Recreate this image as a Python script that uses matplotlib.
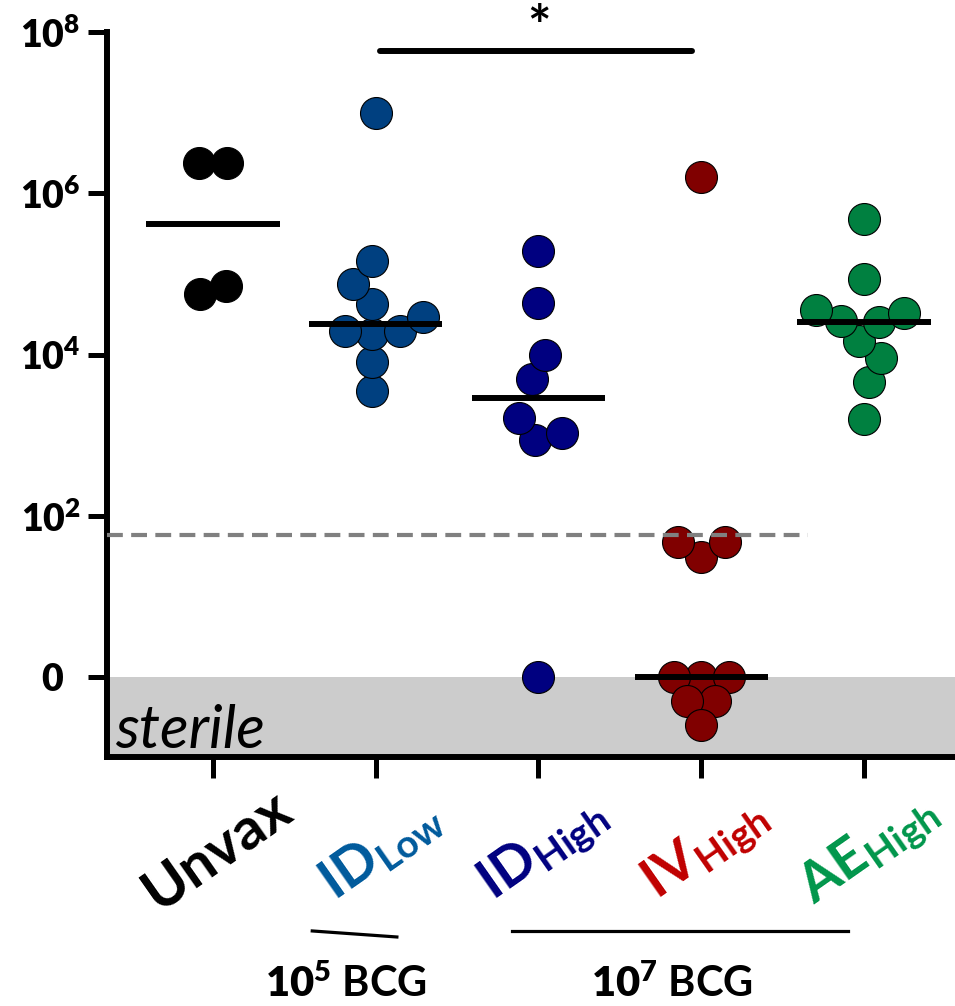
import numpy as np
import matplotlib.pyplot as plt
from matplotlib.transforms import blended_transform_factory, ScaledTranslation

plt.rcParams['font.family'] = ['Lato', 'DejaVu Sans']
plt.rcParams['mathtext.fontset'] = 'custom'
plt.rcParams['mathtext.rm'] = 'Lato:weight=bold'
plt.rcParams['mathtext.bf'] = 'Lato:weight=heavy'
plt.rcParams['mathtext.it'] = 'Lato:italic:weight=bold'
plt.rcParams['mathtext.default'] = 'rm'

# groups and labels
groups = ['Unvax', 'ID Low', 'ID High', 'IV High', 'AE High']
labels = ['Unvax', r'$ID_{Low}$', r'$ID_{High}$', r'$IV_{High}$', r'$AE_{High}$']
dot_colors = ['#000000', '#004080', '#000080', '#800000', '#008040']
label_colors = ['#000000', '#005a9c', '#000080', '#c00000', '#00964b']

# CFU per animal (0 = sterile)
unvax = [2.4e6, 2.4e6, 5.6e4, 7.0e4]
id_low = [1.0e7, 1.45e5, 7.4e4, 4.2e4, 2.95e4, 1.95e4, 1.8e4, 1.95e4, 8.0e3, 3.5e3]
id_high = [1.9e5, 4.4e4, 1.0e4, 5.0e3, 1.65e3, 1.05e3, 8.7e2, 0]
iv_high = [1.6e6, 47, 31, 47, 0, 0, 0, 0, 0, 0]
ae_high = [4.8e5, 8.7e4, 3.6e4, 3.3e4, 2.6e4, 2.5e4, 1.45e4, 9.1e3, 4.5e3, 1.6e3]
cfu = [unvax, id_low, id_high, iv_high, ae_high]

lod = 58  # limit of detection
ytick_vals = [0, 2, 4, 6, 8]
ytick_labels = [r'$\mathbf{0}$', r'$\mathbf{10^{2}}$', r'$\mathbf{10^{4}}$',
                r'$\mathbf{10^{6}}$', r'$\mathbf{10^{8}}$']
dose_labels = [r'$\mathbf{10^{5}}$ BCG', r'$\mathbf{10^{7}}$ BCG']
dose_spans = [(0.61, 1.13), (1.84, 3.90)]
signif = (1, 3, '*')


def to_log(v):
    v = np.asarray(v, float)
    return np.log10(np.where(v > 0, v, 1.0))


def swarm(ypx, floor, d, max_half):
    """greedy beeswarm in pixels; sterile points may sink below the floor"""
    pts = []
    for y, fl in zip(ypx, floor):
        if fl:
            gx, gy = np.meshgrid(np.arange(-max_half, max_half + 0.5, 0.5),
                                 np.arange(0, -2.5 * d, -0.5))
            cand = np.column_stack([gx.ravel(), y + gy.ravel()])
            cost = np.abs(cand[:, 0]) + 4 * np.abs(cand[:, 1] - y)
        else:
            cx = [0.0]
            for px, py in pts:
                dy = abs(py - y)
                if dy < d:
                    dx = np.sqrt(d * d - dy * dy)
                    cx += [px - dx, px + dx]
            cand = np.column_stack([cx, np.full(len(cx), y)])
            cost = np.abs(cand[:, 0])
        nr = sum(1 for p in pts if p[0] > 0.5)
        nl = sum(1 for p in pts if p[0] < -0.5)
        cost = cost + 1e-3 * np.sign(cand[:, 0]) * (nr - nl - 0.5)
        ok = np.ones(len(cand), bool)
        for px, py in pts:
            ok &= np.hypot(cand[:, 0] - px, cand[:, 1] - py) >= d - 1e-6
        i = np.argmin(np.where(ok, cost, np.inf))
        pts.append((cand[i, 0], cand[i, 1]))
    pts = np.array(pts)
    # centre each touching cluster
    n = len(pts)
    comp = list(range(n))

    def find(a):
        while comp[a] != a:
            a = comp[a]
        return a
    for a in range(n):
        for b in range(a + 1, n):
            if np.hypot(*(pts[a] - pts[b])) < 1.3 * d:
                comp[find(a)] = find(b)
    roots = np.array([find(a) for a in range(n)])
    for r in set(roots):
        m = roots == r
        pts[m, 0] -= pts[m, 0].mean()
    return pts


fig = plt.figure(figsize=(9.55, 10.06), dpi=100)
ax = fig.add_axes([107 / 955, 249 / 1006, 848 / 955, 725 / 1006])
ax.set_xlim(-0.651, 4.559)
ax.set_ylim(-0.992, 8)

ax.axhspan(-0.992, 0, color='#cccccc', lw=0, zorder=0)

x0, y0 = ax.transData.transform((0, 0))
x1, y1 = ax.transData.transform((1, 1))
ppx, ppy = x1 - x0, y1 - y0
diam_pt = 23
diam_px = diam_pt / 72 * fig.dpi

for i, vals in enumerate(cfu):
    lv = to_log(vals)
    order = np.argsort(lv)
    floor = np.asarray(vals)[order] == 0
    pts = swarm(lv[order] * ppy, floor, 0.86 * diam_px, 35)
    xs = i + pts[:, 0] / ppx
    ys = pts[:, 1] / ppy
    ax.plot(xs, ys, 'o', ms=diam_pt, mfc=dot_colors[i], mec='black', mew=0.8,
            zorder=3, clip_on=False)
    med = np.median(lv)
    ax.plot([i - 0.41, i + 0.41], [med, med], color='black', lw=4.3,
            solid_capstyle='butt', zorder=5)

ax.plot([-0.651, 3.656], [np.log10(lod)] * 2, color='#808080', lw=3,
        dashes=(3.8, 2.0), zorder=6)

# significance bar
ax.plot([1.026, 2.943], [7.76, 7.76], color='black', lw=4.3,
        solid_capstyle='round', clip_on=False, zorder=5)
ax.text((signif[0] + signif[1]) / 2, 7.84, signif[2], ha='center',
        va='baseline', fontsize=40, fontweight='bold', clip_on=False)

ax.text(-0.6, -0.88, 'sterile', fontsize=43, style='italic', va='baseline',
        ha='left', zorder=2)

for s in ['top', 'right']:
    ax.spines[s].set_visible(False)
for s in ['left', 'bottom']:
    ax.spines[s].set_linewidth(4.3)

ax.set_yticks(ytick_vals)
ax.set_yticklabels(ytick_labels, fontsize=27, fontweight='bold')
ax.tick_params(axis='y', length=14, width=3.6, pad=5)
ax.get_yticklabels()[0].set_transform(
    ax.get_yticklabels()[0].get_transform()
    + ScaledTranslation(-0.17, 0, fig.dpi_scale_trans))
ax.set_xticks(range(len(groups)))
ax.set_xticklabels([])
ax.tick_params(axis='x', length=15, width=3.6)

tr = blended_transform_factory(ax.transData, fig.transFigure)
for i, lab in enumerate(labels):
    ax.text(i + 0.03, 0.155, lab, transform=tr, rotation=35, ha='center',
            va='center', fontsize=42 if i == 0 else 40, fontweight='bold',
            color=label_colors[i], clip_on=False)

for (a, b), lab, (ya, yb) in zip(dose_spans, dose_labels,
                                 [(0.0746, 0.0686), (0.0746, 0.0746)]):
    ax.plot([a, b], [ya, yb], color='black', lw=2.3, transform=tr,
            clip_on=False)
    ax.text((a + b) / 2 - 0.05, 0.022, lab, transform=tr, ha='center',
            va='center', fontsize=30, fontweight='bold')

fig.savefig('out.png', dpi=100)
